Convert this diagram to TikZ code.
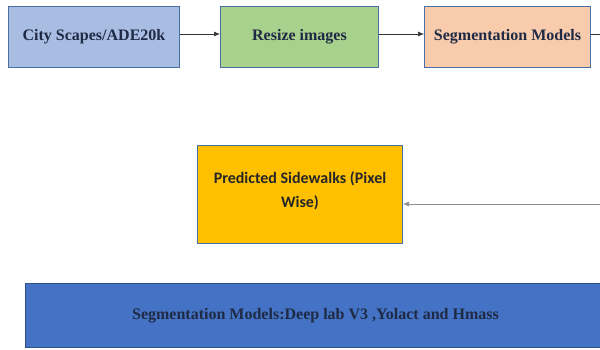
\documentclass[tikz,border=0pt]{standalone}
\usepackage{fontspec}
\setmainfont{Liberation Serif}
\newfontfamily\calfont{Carlito}
\definecolor{inkblue}{HTML}{1F2A44}
\definecolor{edgeblue}{HTML}{4A6FA5}
\definecolor{cityfill}{HTML}{A9BDE3}
\definecolor{resizefill}{HTML}{A9D18E}
\definecolor{segfill}{HTML}{F8CBAD}
\definecolor{predfill}{HTML}{FFC000}
\definecolor{modelfill}{HTML}{4472C4}
\tikzset{
  stagebox/.style={draw=edgeblue, line width=1pt, inner sep=0pt, anchor=north west,
    font=\bfseries\fontsize{16}{18}\selectfont, text=inkblue},
  flow/.style={-{Latex[length=6pt,width=5pt]}, line width=0.6pt, draw=black!80},
}
\usetikzlibrary{arrows.meta}
\begin{document}
\begin{tikzpicture}[x=1pt,y=-1pt]
                \useasboundingbox (0,0) rectangle (600,350);
                \node[stagebox, fill=cityfill, minimum width=171pt, minimum height=61pt] (city) at (8,6) {\raisebox{4pt}{City Scapes/ADE20k}};
                \node[stagebox, fill=resizefill, minimum width=158pt, minimum height=61pt] (resize) at (220,6) {\raisebox{4pt}{Resize images}};
                \node[stagebox, fill=segfill, minimum width=166pt, minimum height=61pt] (seg) at (424,6) {\raisebox{4pt}{Segmentation Models}};
                \node[stagebox, fill=predfill, minimum width=205pt, minimum height=98pt, align=center,
                  font=\calfont\bfseries\fontsize{16}{24}\selectfont, text=black!85] (pred) at (197,145)
                  {Predicted Sidewalks (Pixel\\Wise)\\[-15pt]};
                \node[stagebox, fill=modelfill, draw=modelfill!70!black, minimum width=580pt, minimum height=64pt] (models) at (25,283)
                  {Segmentation Models:Deep lab V3 ,Yolact and Hmass};
                \coordinate (segout) at (600,34);
                \coordinate (predin) at (600,204);
                \draw[flow] (city.east |- segout) -- (resize.west |- segout);
                \draw[flow] (resize.east |- segout) -- (seg.west |- segout);
                \draw[line width=0.6pt, draw=black!80] (seg.east |- segout) -- (segout);
                \draw[flow, draw=black!45] (predin) -- (pred.east |- predin);
            \end{tikzpicture}
\end{document}
